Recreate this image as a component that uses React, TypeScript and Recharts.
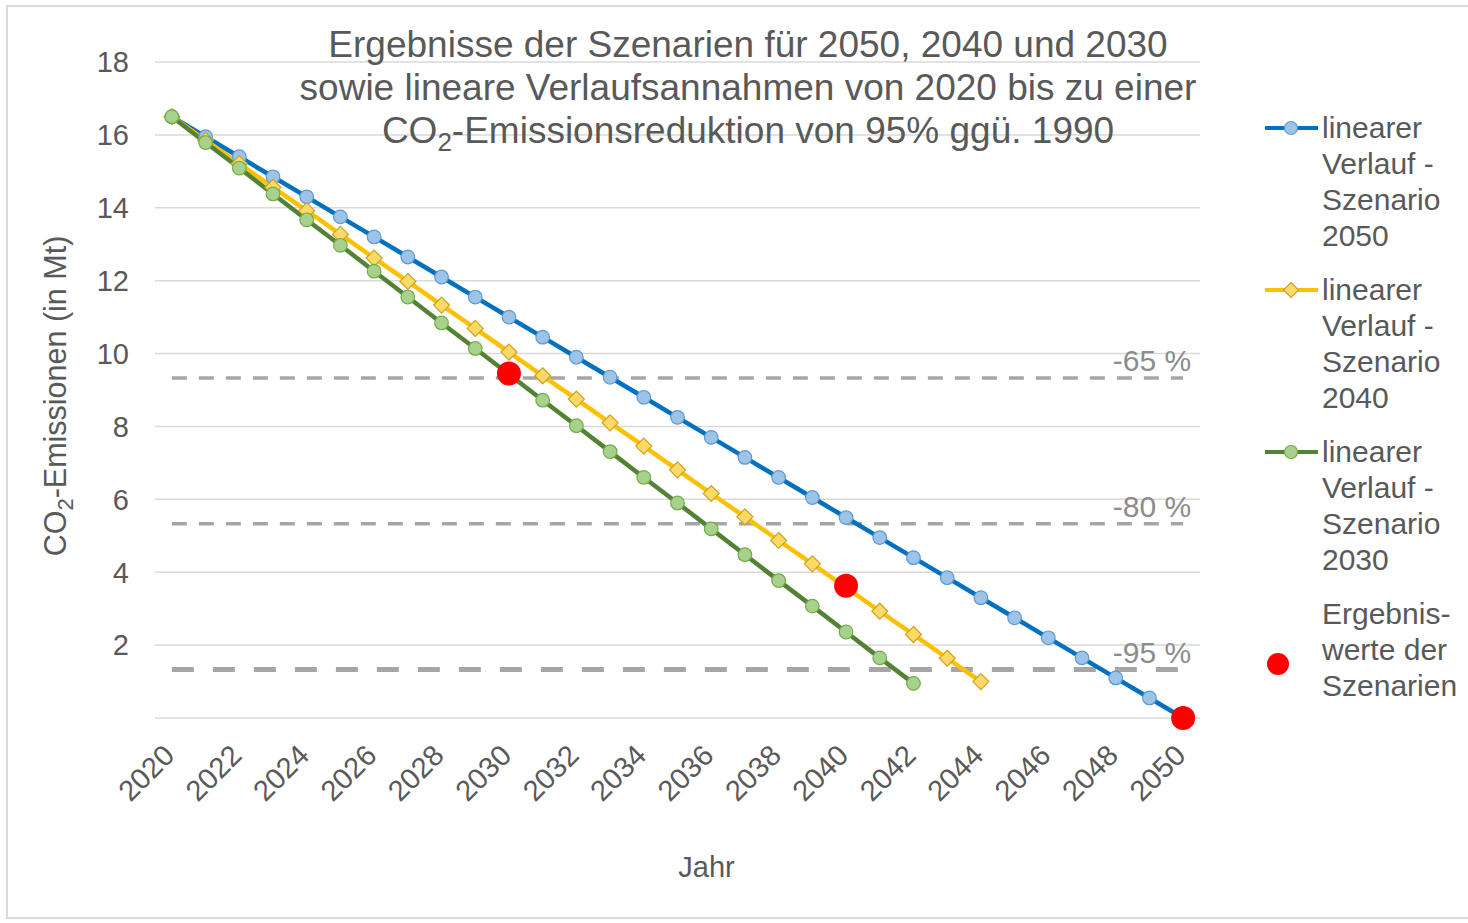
import { ComposedChart, Line, XAxis, YAxis, CartesianGrid, Legend, LabelList } from 'recharts';

const years = [
  2020, 2021, 2022, 2023, 2024, 2025, 2026, 2027, 2028, 2029, 2030, 2031, 2032, 2033, 2034, 2035,
  2036, 2037, 2038, 2039, 2040, 2041, 2042, 2043, 2044, 2045, 2046, 2047, 2048, 2049, 2050,
];

// Mt CO2
const scenario2050 = [
  16.5, 15.95, 15.4, 14.85, 14.3, 13.75, 13.2, 12.65, 12.1, 11.55, 11.0, 10.45, 9.9, 9.35, 8.8, 8.25,
  7.7, 7.15, 6.6, 6.05, 5.5, 4.95, 4.4, 3.85, 3.3, 2.75, 2.2, 1.65, 1.1, 0.55, 0,
];
const scenario2040 = [
  16.5, 15.85, 15.21, 14.56, 13.92, 13.27, 12.62, 11.98, 11.33, 10.69, 10.04, 9.39, 8.75, 8.1, 7.46,
  6.81, 6.16, 5.52, 4.87, 4.23, 3.58, 2.93, 2.29, 1.64, 1.0,
];
const scenario2030 = [
  16.5, 15.79, 15.09, 14.38, 13.67, 12.97, 12.26, 11.55, 10.84, 10.14, 9.43, 8.72, 8.02, 7.31, 6.6,
  5.9, 5.19, 4.48, 3.77, 3.07, 2.36, 1.65, 0.95,
];

const resultYears = [2030, 2040, 2050];
const resultValues = [9.45, 3.63, 0];

const reductionLevels = [9.33, 5.33, 1.33];
const reductionLabels = ['-65 %', '-80 %', '-95 %'];

const seriesNames = [
  'linearer Verlauf - Szenario 2050',
  'linearer Verlauf - Szenario 2040',
  'linearer Verlauf - Szenario 2030',
  'Ergebnis-werte der Szenarien',
];

const yTicks = [0, 2, 4, 6, 8, 10, 12, 14, 16, 18];
const xTicks = [2020, 2022, 2024, 2026, 2028, 2030, 2032, 2034, 2036, 2038, 2040, 2042, 2044, 2046, 2048, 2050];

const rows = years.map((year, i) => {
  const r = resultYears.indexOf(year);
  return {
    year,
    s2050: scenario2050[i],
    s2040: scenario2040[i],
    s2030: scenario2030[i],
    result: r >= 0 ? resultValues[r] : undefined,
    r65: reductionLevels[0],
    r80: reductionLevels[1],
    r95: reductionLevels[2],
  };
});

const TEXT = '#595959';
const GRID = '#D9D9D9';
const DASH = '#A6A6A6';

const BLUE = { line: '#0070C0', fill: '#9DC3E6', stroke: '#5B9BD5' };
const YELLOW = { line: '#FFC000', fill: '#FFD966', stroke: '#C9A227' };
const GREEN = { line: '#548235', fill: '#A9D18E', stroke: '#70AD47' };
const RED = '#FF0000';

const circleDot = (c: typeof BLUE) => (props: any) => {
  const { cx, cy, index } = props;
  if (cx == null || cy == null) return <g key={index} />;
  return <circle key={index} cx={cx} cy={cy} r={6.8} fill={c.fill} stroke={c.stroke} strokeWidth={1.2} />;
};

const diamondDot = (props: any) => {
  const { cx, cy, index } = props;
  if (cx == null || cy == null) return <g key={index} />;
  const s = 8;
  return (
    <path
      key={index}
      d={`M${cx},${cy - s}L${cx + s},${cy}L${cx},${cy + s}L${cx - s},${cy}Z`}
      fill={YELLOW.fill}
      stroke={YELLOW.stroke}
      strokeWidth={1.2}
    />
  );
};

const resultDot = (props: any) => {
  const { cx, cy, index, value } = props;
  if (cx == null || cy == null || value == null) return <g key={index} />;
  return <circle key={index} cx={cx} cy={cy} r={12} fill={RED} />;
};

const YearTick = ({ x, y, payload }: any) => (
  <g transform={`translate(${x - 3},${y + 24})`}>
    <text transform="rotate(-45)" textAnchor="end" dy="0.35em" fill={TEXT} fontSize={29}>
      {payload.value}
    </text>
  </g>
);

const levelLabel = (label: string) => (props: any) => {
  const { x, y, index } = props;
  if (index !== years.length - 1) return null;
  return (
    <text x={x + 8} y={y - 7} textAnchor="end" fill="#8C8C8C" fontSize={30}>
      {label}
    </text>
  );
};

const legendIcons = [
  { c: BLUE, shape: 'circle' },
  { c: YELLOW, shape: 'diamond' },
  { c: GREEN, shape: 'circle' },
];

const LegendBox = () => (
  <div style={{ fontSize: 30, color: TEXT, lineHeight: '36px' }}>
    {legendIcons.map((item, i) => (
      <div key={i} style={{ display: 'flex', marginBottom: 18 }}>
        <svg width={57} height={36} style={{ flex: 'none' }}>
          <line x1={0} y1={18} x2={53} y2={18} stroke={item.c.line} strokeWidth={4} />
          {item.shape === 'circle' ? (
            <circle cx={26} cy={18} r={6.5} fill={item.c.fill} stroke={item.c.stroke} strokeWidth={1.2} />
          ) : (
            <path d="M26,10.5L33.5,18L26,25.5L18.5,18Z" fill={item.c.fill} stroke={item.c.stroke} strokeWidth={1.2} />
          )}
        </svg>
        <div style={{ width: 146 }}>{seriesNames[i]}</div>
      </div>
    ))}
    <div style={{ display: 'flex' }}>
      <svg width={57} height={108} style={{ flex: 'none' }}>
        <circle cx={13} cy={68} r={11} fill={RED} />
      </svg>
      <div style={{ width: 146 }}>{seriesNames[3]}</div>
    </div>
  </div>
);

const YTitle = ({ viewBox }: any) => {
  const cx = viewBox.x + 47;
  const cy = viewBox.y + viewBox.height / 2 + 6;
  return (
    <text transform={`translate(${cx},${cy}) rotate(-90)`} textAnchor="middle" dy="0.35em" fill={TEXT} fontSize={30.5}>
      <tspan>CO</tspan>
      <tspan fontSize={22} dy={7}>2</tspan>
      <tspan dy={-7}>-Emissionen (in Mt)</tspan>
    </text>
  );
};

const XTitle = ({ viewBox }: any) => (
  <text x={viewBox.x + viewBox.width / 2 + 29} y={viewBox.y + 159} textAnchor="middle" fill={TEXT} fontSize={29}>
    Jahr
  </text>
);

export default function App() {
  return (
    <div
      style={{
        position: 'absolute',
        left: 6,
        top: 5,
        width: 1470,
        height: 914,
        boxSizing: 'border-box',
        border: `2px solid ${GRID}`,
        borderRight: 'none',
        background: '#fff',
        fontFamily: '"Liberation Sans", Arial, sans-serif',
      }}
    >
      <ComposedChart
        width={1460}
        height={910}
        data={rows}
        margin={{ top: 55, right: 268, bottom: 99, left: 0 }}
      >
        <CartesianGrid vertical={false} stroke={GRID} strokeWidth={1.5} />
        <XAxis
          dataKey="year"
          type="number"
          domain={[2019.5, 2050.5]}
          ticks={xTicks}
          interval={0}
          axisLine={false}
          tickLine={false}
          height={100}
          tick={<YearTick />}
          label={<XTitle />}
        />
        <YAxis
          type="number"
          domain={[0, 18]}
          ticks={yTicks}
          width={147}
          axisLine={false}
          tickLine={false}
          tickMargin={20}
          tick={{ fill: TEXT, fontSize: 29 }}
          tickFormatter={(v: number) => (v === 0 ? '' : String(v))}
          label={<YTitle />}
        />
        <Legend
          layout="vertical"
          align="center"
          verticalAlign="middle"
          wrapperStyle={{ left: 1257, top: 103, width: 203 }}
          content={<LegendBox />}
        />

        <Line dataKey="r65" stroke={DASH} strokeWidth={3.5} strokeDasharray="15 12" dot={false} isAnimationActive={false}>
          <LabelList dataKey="r65" content={levelLabel(reductionLabels[0])} />
        </Line>
        <Line dataKey="r80" stroke={DASH} strokeWidth={3.5} strokeDasharray="15 12" dot={false} isAnimationActive={false}>
          <LabelList dataKey="r80" content={levelLabel(reductionLabels[1])} />
        </Line>
        <Line dataKey="r95" stroke={DASH} strokeWidth={5} strokeDasharray="22 19" dot={false} isAnimationActive={false}>
          <LabelList dataKey="r95" content={levelLabel(reductionLabels[2])} />
        </Line>

        <Line dataKey="s2050" stroke={BLUE.line} strokeWidth={4.5} dot={circleDot(BLUE)} isAnimationActive={false} />
        <Line dataKey="s2040" stroke={YELLOW.line} strokeWidth={4.5} dot={diamondDot} isAnimationActive={false} />
        <Line dataKey="s2030" stroke={GREEN.line} strokeWidth={4.5} dot={circleDot(GREEN)} isAnimationActive={false} />
        <Line dataKey="result" stroke="none" dot={resultDot} activeDot={false} isAnimationActive={false} />

        <text textAnchor="middle" fill={TEXT} fontSize={37}>
          <tspan x={740} y={50}>Ergebnisse der Szenarien für 2050, 2040 und 2030</tspan>
          <tspan x={740} y={93}>sowie lineare Verlaufsannahmen von 2020 bis zu einer</tspan>
        </text>
        <text x={740} y={136} textAnchor="middle" fill={TEXT} fontSize={37}>
          <tspan>CO</tspan>
          <tspan fontSize={26} dy={8}>2</tspan>
          <tspan dy={-8}>-Emissionsreduktion von 95% ggü. 1990</tspan>
        </text>
      </ComposedChart>
    </div>
  );
}
